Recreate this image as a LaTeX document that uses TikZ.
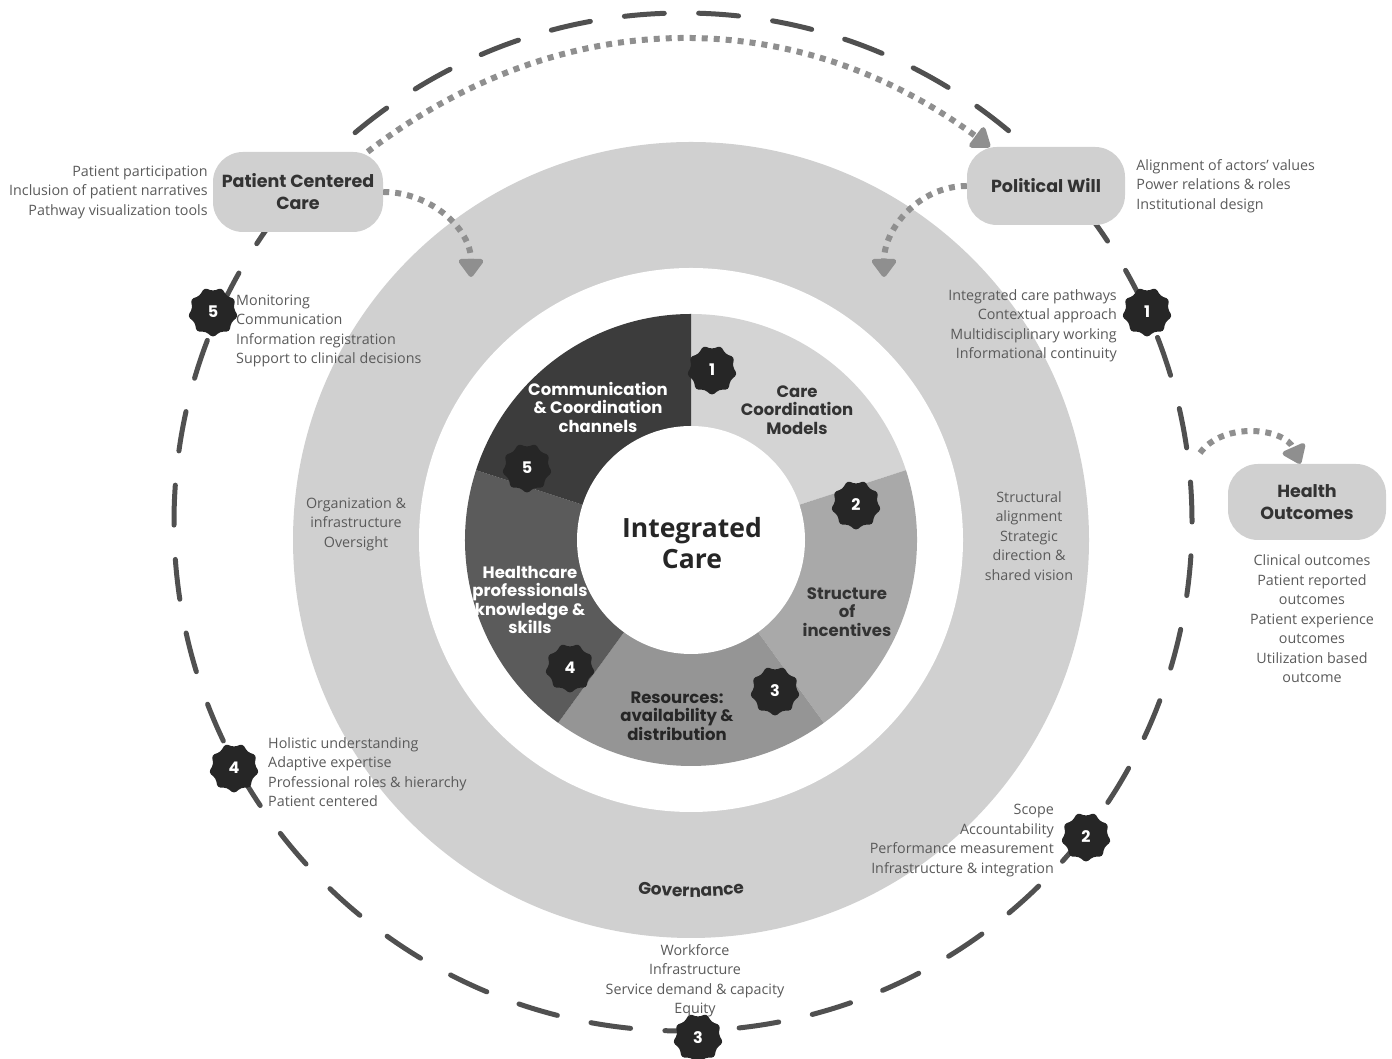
\documentclass[tikz,border=0pt]{standalone}
\usepackage{fontspec}
\setmainfont{Open Sans}
\newfontfamily\headfont{Poppins}
\usetikzlibrary{shapes.geometric, arrows.meta, positioning, decorations.text}

\definecolor{ringgray}{HTML}{D0D0D0}
\definecolor{segone}{HTML}{D4D4D4}
\definecolor{segtwo}{HTML}{A9A9A9}
\definecolor{segthree}{HTML}{959595}
\definecolor{segfour}{HTML}{5B5B5B}
\definecolor{segfive}{HTML}{3C3C3C}
\definecolor{badgegray}{HTML}{262626}
\definecolor{dashgray}{HTML}{505050}
\definecolor{dotgray}{HTML}{8F8F8F}
\definecolor{textgray}{HTML}{5A5A5A}

\begin{document}
\begin{tikzpicture}[
    x = 1pt, y = 1pt,
    pill/.style = {rectangle, rounded corners=30pt, fill=ringgray, minimum width=170pt, minimum height=80pt, align=center, text=black!80, font=\headfont\bfseries\fontsize{17.5}{22}\selectfont},
    notes/.style = {inner sep=0pt, text=textgray, font=\fontsize{14.3}{19.5}\selectfont},
    seglabel/.style = {align=center, inner sep=0pt, font=\headfont\bfseries\fontsize{16.5}{18.5}\selectfont},
    badge/.style = {star, star points=9, star point ratio=0.82, rounded corners=3pt, fill=badgegray, text=white, minimum size=42pt, inner sep=0pt, font=\headfont\bfseries\fontsize{16}{16}\selectfont},
    dotarrow/.style = {dotgray, line width=6pt, dash pattern=on 6pt off 6pt, -{Triangle[width=28pt,length=20pt,round]}},
    outerloop/.style = {dashgray, line width=5pt, line cap=round, dash pattern=on 40pt off 34.4pt}
]
\useasboundingbox (0,0) rectangle (1392,1059);

% Rings
\coordinate (c) at (691,519);
\coordinate (d) at (683,537);
\fill[ringgray] (c) circle[radius=398pt];
\fill[white] (c) circle[radius=272pt];
\draw[outerloop] (d) circle[radius=509pt];

% Donut segments
\fill[segone] (c) -- ++(18:226pt) arc[start angle=18, end angle=90, radius=226pt] -- cycle;
\fill[segtwo] (c) -- ++(-54:226pt) arc[start angle=-54, end angle=18, radius=226pt] -- cycle;
\fill[segthree] (c) -- ++(-126:226pt) arc[start angle=-126, end angle=-54, radius=226pt] -- cycle;
\fill[segfour] (c) -- ++(162:226pt) arc[start angle=162, end angle=234, radius=226pt] -- cycle;
\fill[segfive] (c) -- ++(90:226pt) arc[start angle=90, end angle=162, radius=226pt] -- cycle;
\fill[white] (c) circle[radius=114pt];

% Segment labels
\node[font=\bfseries\fontsize{26.5}{31}\selectfont, align=center, text=black!85] (ic) at (692,516) {Integrated\\Care};
\node[seglabel, text=white] (comm) at (598,652) {Communication\\\& Coordination\\channels};
\node[seglabel, text=black!80] (ccm) at (797,649) {Care\\Coordination\\Models};
\node[seglabel, text=black!80] (soi) at (847,447) {Structure\\of\\incentives};
\node[seglabel, text=black!85] (res) at (677,343) {Resources:\\availability \&\\distribution};
\node[seglabel, text=white] (hpk) at (530,459) {Healthcare\\professionals\\knowledge \&\\skills};

% Ring notes
\node[notes, align=center] (orgnotes) at (356,535) {Organization \&\\infrastructure\\Oversight};
\node[notes, align=center] (strnotes) at (1029,523) {Structural\\alignment\\Strategic\\direction \&\\shared vision};
\path[decorate, decoration={text along path, text align=center, text={|\headfont\bfseries\fontsize{17}{17}\selectfont\color{black!80}|Governance}}]
    ([shift={(240:357pt)}]c) arc[start angle=240, end angle=300, radius=357pt];

% Outer nodes
\node[pill] (pcc) at (298,867) {Patient Centered\\Care};
\node[pill, minimum width=158pt, minimum height=78pt] (pw) at (1046,873) {Political Will};
\node[pill, minimum width=158pt, minimum height=76pt] (ho) at (1307,557) {Health\\Outcomes};
\node[notes, align=right, left=5pt of pcc] (pccnotes) {Patient participation\\Inclusion of patient narratives\\Pathway visualization tools};
\node[notes, align=left, right=11pt of pw] (pwnotes) {Alignment of actors’ values\\Power relations \& roles\\Institutional design};
\node[notes, align=center] (honotes) at (1312,440) {Clinical outcomes\\Patient reported\\outcomes\\Patient experience\\outcomes\\Utilization based\\outcome};

% Dotted arrows
\coordinate (pcctip) at (471,782);
\coordinate (pwtip) at (884,782);
\coordinate (hostart) at (1200,606);
\draw[dotarrow] (pcc.30) to[bend left=37] (pw.145);
\draw[dotarrow] (pcc.east) to[out=0, in=90] (pcctip);
\draw[dotarrow] (pw.west) to[out=180, in=90] (pwtip);
\draw[dotarrow] (hostart) to[bend left=60] (ho.100);

% Inner badges
\node[badge] (ib1) at (712,689) {1};
\node[badge] (ib2) at (856,554) {2};
\node[badge] (ib3) at (775,368) {3};
\node[badge] (ib4) at (570,391) {4};
\node[badge] (ib5) at (527,591) {5};

% Outer badges and notes
\node[badge] (ob1) at (1147,747) {1};
\node[badge] (ob2) at (1086,222) {2};
\node[badge] (ob3) at (698,21) {3};
\node[badge] (ob4) at (234,291) {4};
\node[badge] (ob5) at (213,747) {5};
\node[notes, align=right, anchor=east] (ob1notes) at (1117,733) {Integrated care pathways\\Contextual approach\\Multidisciplinary working\\Informational continuity};
\node[notes, align=right, anchor=east] (ob2notes) at (1054,218.5) {Scope\\Accountability\\Performance measurement\\Infrastructure \& integration};
\node[notes, align=center] (ob3notes) at (695,78) {Workforce\\Infrastructure\\Service demand \& capacity\\Equity};
\node[notes, align=left, anchor=west] (ob4notes) at (268,287) {Holistic understanding\\Adaptive expertise\\Professional roles \& hierarchy\\Patient centered};
\node[notes, align=left, anchor=west] (ob5notes) at (236,728) {Monitoring\\Communication\\Information registration\\Support to clinical decisions};

\end{tikzpicture}
\end{document}
